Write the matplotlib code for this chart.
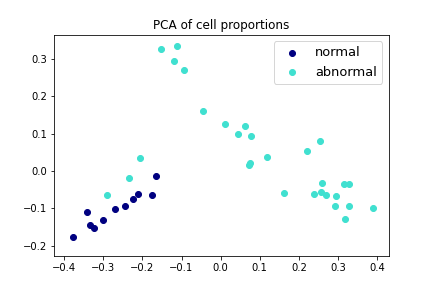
import numpy as np
import matplotlib
matplotlib.use("Agg")
import matplotlib.pyplot as plt

# PCA coordinates
normal_x = [-0.377, -0.341, -0.334, -0.323, -0.301, -0.270, -0.244, -0.224, -0.211, -0.175, -0.165]
normal_y = [-0.178, -0.111, -0.145, -0.154, -0.132, -0.103, -0.095, -0.076, -0.063, -0.064, -0.014]

abnormal_x = [-0.152, -0.112, -0.119, -0.093, -0.045, 0.012, -0.206, -0.234, -0.290,
              0.063, 0.045, 0.078, 0.119, 0.073, 0.076, 0.222, 0.255, 0.161,
              0.260, 0.256, 0.240, 0.269, 0.295, 0.293, 0.315, 0.327, 0.329, 0.319, 0.390]
abnormal_y = [0.327, 0.335, 0.294, 0.270, 0.160, 0.125, 0.034, -0.020, -0.065,
              0.120, 0.098, 0.093, 0.037, 0.017, 0.021, 0.053, 0.080, -0.060,
              -0.033, -0.057, -0.063, -0.065, -0.068, -0.095, -0.036, -0.036, -0.095, -0.130, -0.100]

fig = plt.figure(figsize=(6, 4), dpi=72)
plt.scatter(normal_x, normal_y, color='navy', label='normal')
plt.scatter(abnormal_x, abnormal_y, color='turquoise', label='abnormal')
plt.xlim(-0.426, 0.430)
plt.ylim(-0.229, 0.366)
plt.title("PCA of cell proportions")
plt.legend(loc='best', shadow=False, scatterpoints=1, fontsize=13)
plt.savefig("out.png", dpi=72)
